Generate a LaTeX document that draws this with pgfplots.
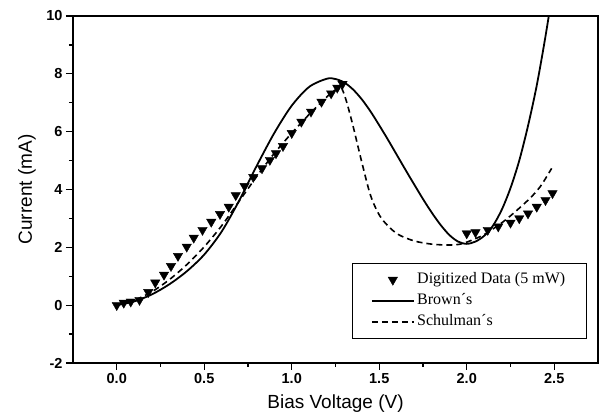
\documentclass[border=0pt]{standalone}
\usepackage{pgfplots}
\pgfplotsset{compat=1.18}
\usepackage{fontspec}
\setmainfont{Liberation Sans}
\newfontfamily\legfont{Liberation Serif}
\begin{document}
\begin{tikzpicture}
\useasboundingbox (-73pt,-56pt) rectangle (527pt,363pt);
\begin{axis}[
 scale only axis, width=525pt, height=347pt,
 xmin=-0.25, xmax=2.75, ymin=-2, ymax=10,
 xtick={0,0.5,...,2.5}, ytick={-2,0,...,10},
 minor x tick num=1, minor y tick num=1,
 tick pos=left, tick align=outside,
 major tick length=7pt, minor tick length=4pt,
 axis line style={line width=1.7pt},
 every tick/.style={line width=1.3pt, black},
 xlabel={Bias Voltage (V)}, ylabel={Current (mA)},
 every axis x label/.style={at={(axis description cs:0.5,-0.118)}, anchor=center, font=\fontsize{19}{19}\selectfont},
 every axis y label/.style={at={(axis description cs:-0.0876,0.5)}, anchor=center, rotate=90, font=\fontsize{19}{19}\selectfont},
 ticklabel style={font=\bfseries\fontsize{14.5}{14.5}\selectfont},
 /pgf/number format/assume math mode=true,
 xticklabel style={/pgf/number format/.cd, fixed, fixed zerofill, precision=1},
 yticklabel style={/pgf/number format/.cd, fixed, precision=0},
 legend image code/.code={\draw[mark repeat=2,mark phase=2,#1] plot coordinates {(0pt,0pt) (21pt,0pt) (42pt,0pt)};},
 legend cell align=left,
 legend style={draw=black, line width=0.6pt, at={(axis description cs:0.979,0.288)}, anchor=north east,
   font=\legfont\fontsize{16}{16}\selectfont, inner xsep=19pt, inner ysep=6pt,
   nodes={inner sep=2.5pt, text height=12pt, text depth=4pt}},
]
\addplot[only marks, black, mark=triangle*, mark size=5.4pt, mark options={rotate=180, fill=black, line width=0.4pt}] table {
x y
0.00 0.00
0.04 0.08
0.08 0.12
0.13 0.18
0.18 0.45
0.22 0.78
0.27 1.05
0.31 1.35
0.35 1.70
0.40 2.02
0.44 2.33
0.49 2.60
0.54 2.88
0.59 3.15
0.64 3.40
0.68 3.80
0.73 4.12
0.78 4.43
0.83 4.73
0.875 5.02
0.91 5.25
0.95 5.50
1.00 5.95
1.055 6.34
1.11 6.69
1.17 7.03
1.225 7.32
1.26 7.52
1.29 7.65
2.00 2.48
2.05 2.52
2.12 2.60
2.18 2.72
2.25 2.85
2.30 3.00
2.35 3.17
2.40 3.40
2.45 3.63
2.49 3.87
};
\addlegendentry{Digitized Data (5 mW)}
\addplot[black, line width=1.8pt, smooth] table {
x y
0.00 0.00
0.10 0.13
0.20 0.37
0.30 0.72
0.40 1.17
0.50 1.75
0.60 2.55
0.70 3.62
0.80 4.82
0.90 5.95
1.00 6.90
1.10 7.55
1.20 7.83
1.25 7.82
1.30 7.70
1.35 7.46
1.40 7.12
1.45 6.70
1.50 6.22
1.55 5.72
1.60 5.20
1.65 4.68
1.70 4.17
1.75 3.67
1.80 3.20
1.85 2.78
1.90 2.43
1.95 2.20
2.00 2.12
2.05 2.20
2.10 2.40
2.15 2.75
2.20 3.30
2.25 4.05
2.30 5.00
2.35 6.20
2.40 7.60
2.45 9.30
2.50 11.20
};
\addlegendentry{Brown´s}
\addplot[black, line width=1.6pt, dash pattern=on 6pt off 4pt, smooth] table {
x y
0.00 0.00
0.10 0.17
0.20 0.46
0.30 0.88
0.40 1.40
0.50 2.02
0.60 2.75
0.70 3.60
0.80 4.45
0.90 5.25
1.00 5.95
1.10 6.60
1.20 7.20
1.25 7.45
1.28 7.55
1.31 7.10
1.35 6.20
1.40 4.95
1.45 3.80
1.50 3.12
1.55 2.74
1.61 2.44
1.70 2.22
1.80 2.11
1.90 2.08
1.97 2.12
2.05 2.30
2.11 2.48
2.22 2.94
2.35 3.63
2.42 4.10
2.485 4.73
};
\addlegendentry{Schulman´s}
\end{axis}
\end{tikzpicture}
\end{document}
